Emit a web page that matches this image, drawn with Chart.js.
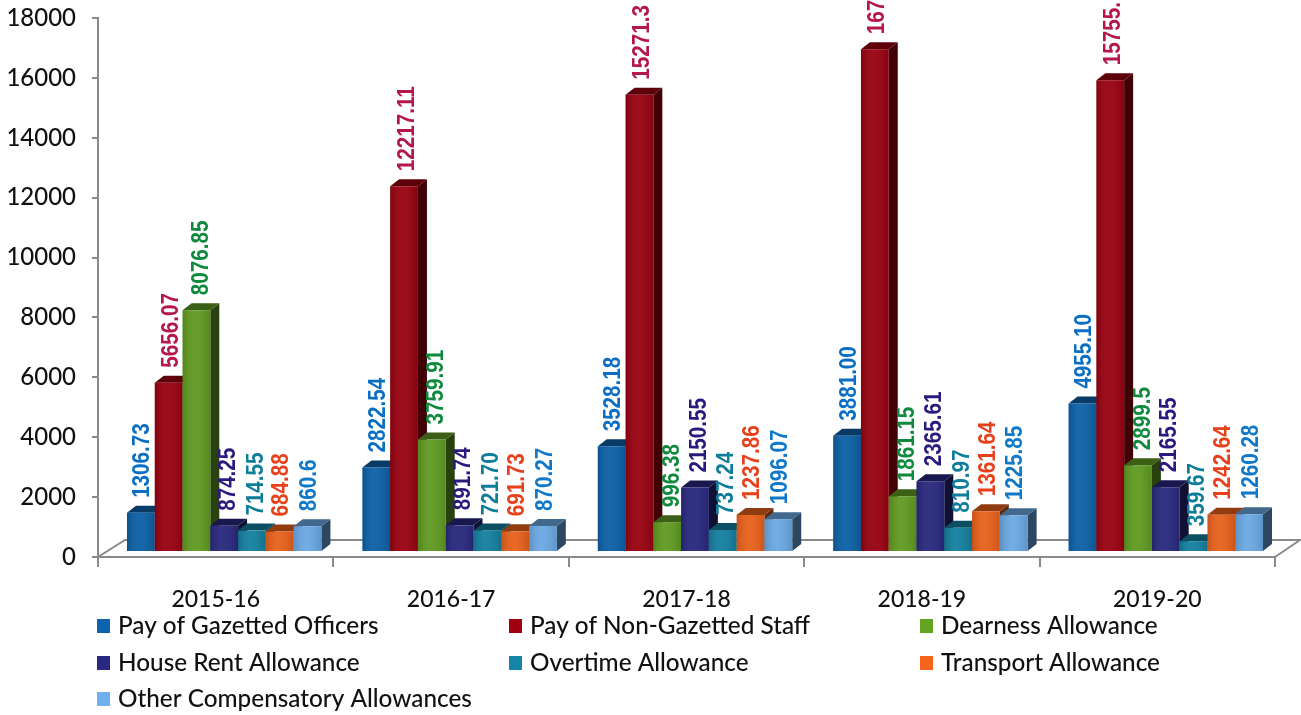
<!DOCTYPE html>
<html><head><meta charset="utf-8">
<style>html,body{margin:0;padding:0;background:#fff;overflow:hidden}canvas{display:block}</style>
<script src="https://cdn.jsdelivr.net/npm/chart.js@4/dist/chart.umd.min.js"></script>
</head><body><canvas id="c" width="1301" height="715"></canvas>
<script>
const categories = ['2015-16','2016-17','2017-18','2018-19','2019-20'];
const seriesNames = ['Pay of Gazetted Officers','Pay of Non-Gazetted Staff','Dearness Allowance','House Rent Allowance','Overtime Allowance','Transport Allowance','Other Compensatory Allowances'];
const gazetted = [1306.73,2822.54,3528.18,3881.00,4955.10];
const nonGazetted = [5656.07,12217.11,15271.3,16793,15755];
const dearness = [8076.85,3759.91,996.38,1861.15,2899.5];
const houseRent = [874.25,891.74,2150.55,2365.61,2165.55];
const overtime = [714.55,721.70,737.24,810.97,359.67];
const transport = [684.88,691.73,1237.86,1361.64,1242.64];
const other = [860.6,870.27,1096.07,1225.85,1260.28];
const gazettedText = ['1306.73','2822.54','3528.18','3881.00','4955.10'];
const nonGazettedText = ['5656.07','12217.11','15271.3','167','15755.'];
const dearnessText = ['8076.85','3759.91','996.38','1861.15','2899.5'];
const houseRentText = ['874.25','891.74','2150.55','2365.61','2165.55'];
const overtimeText = ['714.55','721.70','737.24','810.97','359.67'];
const transportText = ['684.88','691.73','1237.86','1361.64','1242.64'];
const otherText = ['860.6','870.27','1096.07','1225.85','1260.28'];
const barColors = ['#0b5fa5','#98000f','#5f9a20','#27277d','#137f9f','#e8601a','#6aa8e4'];
const labelColors = ['#0a6fc4','#b5174a','#0f8a3c','#2a1a7e','#0e7d9a','#e8401a','#0f78c8'];
const labelNudge = [1,2,4,3,3,1,1];
const allValues = [gazetted,nonGazetted,dearness,houseRent,overtime,transport,other];
const allText = [gazettedText,nonGazettedText,dearnessText,houseRentText,overtimeText,transportText,otherText];

const DEPTH_X = 9, DEPTH_Y = 7, SHIFT_X = 8.5, SHIFT_Y = -5;
const AXIS = '#8a8a8a';
const INK = '#111111';

function shade(hex, f){
  const n = parseInt(hex.slice(1),16);
  const c = [n>>16&255,n>>8&255,n&255].map(v=>Math.min(255,Math.round(v*f)));
  return `rgb(${c[0]},${c[1]},${c[2]})`;
}
function poly(ctx, pts, fill){
  ctx.beginPath(); pts.forEach((p,i)=> i?ctx.lineTo(p[0],p[1]):ctx.moveTo(p[0],p[1]));
  ctx.closePath(); ctx.fillStyle = fill; ctx.fill();
}
const bars3d = {
  id:'bars3d',
  beforeDatasetsDraw(chart){
    const {ctx, scales:{x,y}} = chart;
    ctx.save();
    ctx.strokeStyle = AXIS; ctx.lineWidth = 2;
    ctx.beginPath();
    ctx.moveTo(x.left, y.bottom); ctx.lineTo(x.left+27, y.bottom-17);
    ctx.lineTo(x.right+25, y.bottom-17); ctx.lineTo(x.right, y.bottom);
    ctx.stroke();
    ctx.translate(SHIFT_X, SHIFT_Y);
    const metas = chart.data.datasets.map((d,i)=>chart.getDatasetMeta(i));
    categories.forEach((c,ci)=>{
      metas.forEach((m,di)=>{
        const el = m.data[ci], col = barColors[di];
        const l = el.x-el.width/2, r = el.x+el.width/2, t = el.y, b = el.base;
        poly(ctx,[[r,t],[r+DEPTH_X,t-DEPTH_Y],[r+DEPTH_X,b-DEPTH_Y],[r,b]],shade(col,.42));
        poly(ctx,[[l,t],[l+DEPTH_X,t-DEPTH_Y],[r+DEPTH_X,t-DEPTH_Y],[r,t]],shade(col,.62));
        el.draw(ctx);
        const g = ctx.createLinearGradient(l,0,r,0);
        g.addColorStop(0,'rgba(0,0,0,.14)'); g.addColorStop(.45,'rgba(255,255,255,.05)'); g.addColorStop(1,'rgba(0,0,0,.12)');
        ctx.fillStyle = g; ctx.fillRect(l,t,r-l,b-t);
      });
    });
    ctx.restore();
    return false;
  },
  afterDraw(chart){
    const {ctx} = chart;
    ctx.save();
    chart.data.datasets.forEach((d,di)=>{
      chart.getDatasetMeta(di).data.forEach((el,ci)=>{
        ctx.save();
        ctx.translate(el.x+SHIFT_X+labelNudge[di], el.y+SHIFT_Y-15);
        ctx.rotate(-Math.PI/2);
        ctx.scale(.86,1);
        ctx.font = 'bold 24px "Liberation Sans"';
        ctx.textAlign='left'; ctx.textBaseline='middle';
        ctx.fillStyle = labelColors[di];
        ctx.fillText(allText[di][ci],0,1);
        ctx.restore();
      });
    });
    const colX = [97,509,920], rowY = [626,663,699];
    ctx.font = '500 24.3px Lato'; ctx.textBaseline='middle'; ctx.textAlign='left';
    chart.data.datasets.forEach((d,i)=>{
      const cx = colX[i%3], cy = rowY[Math.floor(i/3)];
      ctx.fillStyle = shade(barColors[i],1.05);
      ctx.fillRect(cx,cy-7,13,14);
      ctx.fillStyle = INK;
      ctx.fillText(d.label,cx+21,cy);
    });
    ctx.restore();
  }
};

new Chart(document.getElementById('c'),{
  type:'bar',
  data:{labels:categories,datasets:seriesNames.map((n,i)=>({label:n,data:allValues[i],backgroundColor:barColors[i],borderWidth:0}))},
  options:{
    responsive:false,animation:false,
    layout:{padding:{top:18,right:26,left:0,bottom:0}},
    datasets:{bar:{categoryPercentage:.826,barPercentage:1}},
    plugins:{legend:{display:false},tooltip:{enabled:false},title:{display:false}},
    scales:{
      x:{
        afterFit(s){s.height=158},
        grid:{offset:true,drawOnChartArea:false,drawTicks:true,tickLength:10,color:AXIS,lineWidth:2},
        border:{color:AXIS,width:2},
        ticks:{color:INK,font:{family:'Lato',size:23,weight:'500'},padding:19,maxRotation:0}
      },
      y:{
        min:0,max:18000,
        afterFit(s){s.width=98;s.paddingTop=0;s.paddingBottom=0},
        grid:{drawOnChartArea:false,drawTicks:true,tickLength:6,color:AXIS,lineWidth:2},
        border:{color:AXIS,width:2},
        ticks:{stepSize:2000,color:INK,font:{family:'Lato',size:24,weight:'500'},padding:16,callback:v=>String(v)}
      }
    }
  },
  plugins:[bars3d]
});
</script></body></html>
